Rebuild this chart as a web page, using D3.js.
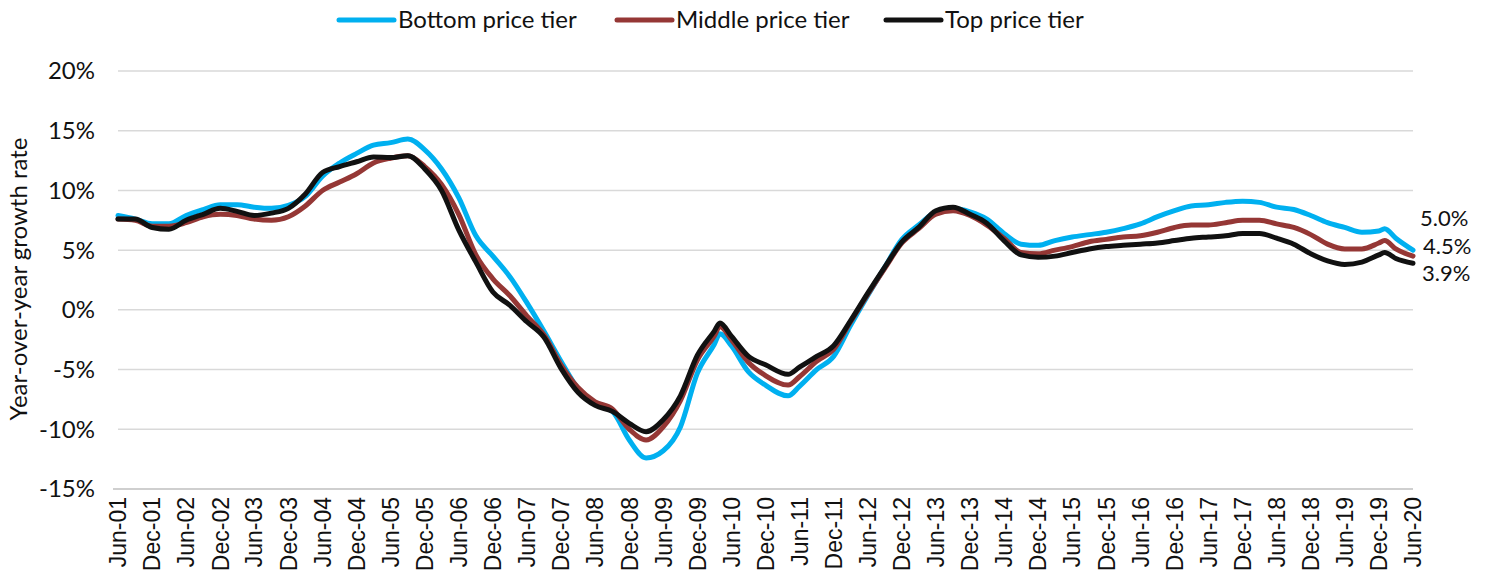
<!DOCTYPE html>
<html>
<head>
<meta charset="utf-8">
<script src="https://cdn.jsdelivr.net/npm/d3@7"></script>
<style>
  body { margin: 0; background: #fff; }
  svg { display: block; }
</style>
</head>
<body>
<svg id="chart" width="1491" height="577"></svg>
<script>
// readings taken roughly quarterly, with extra points at turning points
var dates = ["2001-06","2001-09","2001-12","2002-03","2002-06","2002-09","2002-12","2003-03","2003-06","2003-09",
  "2003-12","2004-03","2004-06","2004-09","2004-12","2005-03","2005-06","2005-09","2005-12","2006-03",
  "2006-06","2006-09","2006-12","2007-03","2007-06","2007-09","2007-12","2008-03","2008-06","2008-09",
  "2008-12","2009-03","2009-06","2009-09","2009-12","2010-03","2010-04","2010-06","2010-09","2010-12",
  "2011-04","2011-06","2011-09","2011-12","2012-03","2012-06","2012-09","2012-12","2013-03","2013-06",
  "2013-09","2013-12","2014-03","2014-06","2014-09","2014-12","2015-03","2015-06","2015-09","2015-12",
  "2016-03","2016-06","2016-09","2016-12","2017-03","2017-06","2017-09","2017-12","2018-03","2018-06",
  "2018-09","2018-12","2019-03","2019-06","2019-09","2019-12","2020-01","2020-03","2020-06"];

var bottomTier = [7.9,7.6,7.2,7.2,7.9,8.4,8.8,8.8,8.6,8.5,
  8.75,9.5,11.2,12.3,13.1,13.8,14.0,14.3,13.4,11.8,
  9.4,6.2,4.5,2.8,0.6,-1.8,-4.3,-6.6,-7.9,-8.5,
  -10.9,-12.4,-11.8,-9.8,-5.3,-2.9,-2.0,-3.0,-5.2,-6.3,
  -7.2,-6.4,-5.0,-3.9,-1.3,1.2,3.6,5.9,7.1,8.2,
  8.5,8.2,7.6,6.4,5.5,5.4,5.8,6.1,6.3,6.5,
  6.8,7.2,7.8,8.3,8.7,8.8,9.0,9.1,9.0,8.6,
  8.4,7.9,7.3,6.9,6.5,6.6,6.8,6.0,5.0];

var middleTier = [7.6,7.5,7.0,7.0,7.3,7.8,8.0,7.9,7.6,7.5,
  7.8,8.7,10.0,10.7,11.4,12.3,12.7,12.9,12.0,10.5,
  8.0,4.6,2.6,1.2,-0.5,-2.1,-4.6,-6.5,-7.7,-8.3,
  -10.0,-10.9,-9.8,-7.6,-4.2,-2.2,-1.4,-2.5,-4.4,-5.5,
  -6.3,-5.6,-4.3,-3.3,-1.0,1.3,3.5,5.6,6.8,8.0,
  8.3,7.9,7.1,6.0,4.8,4.7,5.0,5.3,5.7,5.9,
  6.1,6.2,6.5,6.9,7.1,7.1,7.3,7.5,7.5,7.2,
  6.9,6.3,5.5,5.1,5.1,5.6,5.8,5.1,4.5];

var topTier = [7.6,7.6,6.9,6.75,7.5,8.0,8.5,8.25,7.9,8.1,
  8.5,9.7,11.5,12.0,12.4,12.8,12.75,12.9,11.8,10.0,
  6.7,4.0,1.5,0.4,-1.0,-2.3,-4.9,-6.9,-8.0,-8.5,
  -9.5,-10.2,-9.2,-7.2,-3.8,-1.8,-1.1,-2.2,-3.9,-4.6,
  -5.4,-4.8,-3.9,-3.0,-0.9,1.4,3.6,5.7,6.9,8.3,
  8.6,8.0,7.25,5.8,4.6,4.4,4.5,4.8,5.1,5.3,
  5.4,5.5,5.6,5.8,6.0,6.1,6.2,6.4,6.4,6.0,
  5.5,4.7,4.1,3.8,4.0,4.6,4.8,4.3,3.9];

var seriesNames = ["Bottom price tier", "Middle price tier", "Top price tier"];
var seriesColors = ["#00b0f0", "#953735", "#111111"];
var endLabels = ["5.0%", "4.5%", "3.9%"];
var yTicks = [20, 15, 10, 5, 0, -5, -10, -15];

var parseMonth = d3.utcParse("%Y-%m");
var x0 = parseMonth("2001-06"), x1 = parseMonth("2020-06");
var xTicks = d3.utcMonth.range(x0, d3.utcMonth.offset(x1, 1), 6);

var svg = d3.select("#chart");
var margin = { left: 118, right: 78, top: 71, bottom: 88 };
var W = 1491, H = 577;

var x = d3.scaleUtc().domain([x0, x1]).range([margin.left, W - margin.right]);
var y = d3.scaleLinear().domain([-15, 20]).range([H - margin.bottom, margin.top]);

// gridlines
svg.append("g").selectAll("line").data(yTicks.filter(function(t){ return t !== -15; })).join("line")
  .attr("x1", x.range()[0]).attr("x2", x.range()[1])
  .attr("y1", function(d){ return y(d); }).attr("y2", function(d){ return y(d); })
  .attr("stroke", "#d9d9d9").attr("stroke-width", 1.5);

// y labels
svg.append("g").selectAll("text").data(yTicks).join("text")
  .attr("x", 95).attr("y", function(d){ return y(d); }).attr("dy", "0.35em")
  .attr("text-anchor", "end")
  .style("font-family", "Lato, sans-serif").style("font-size", "24px").attr("fill", "#111")
  .text(function(d){ return d + "%"; });

// x axis line
svg.append("line")
  .attr("x1", margin.left - 5).attr("x2", x.range()[1])
  .attr("y1", y(-15)).attr("y2", y(-15))
  .attr("stroke", "#bfbfbf").attr("stroke-width", 1.5);

// x labels (rotated)
var fmt = d3.utcFormat("%b-%y");
svg.append("g").selectAll("text").data(xTicks).join("text")
  .attr("transform", function(d){ return "translate(" + x(d) + "," + (y(-15) + 8) + ") rotate(-90)"; })
  .attr("dy", "0.36em").attr("text-anchor", "end")
  .style("font-family", "'Liberation Sans', Arial, sans-serif").style("font-size", "23px").attr("fill", "#111")
  .text(function(d){ return fmt(d); });

// y axis title
svg.append("text")
  .attr("transform", "translate(19,279) rotate(-90)")
  .attr("text-anchor", "middle").attr("dy", "0.35em")
  .style("font-family", "Lato, sans-serif").style("font-size", "24px").attr("fill", "#111")
  .text("Year-over-year growth rate");

// lines
var dts = dates.map(parseMonth);
var allSeries = [bottomTier, middleTier, topTier];
var line = d3.line()
  .x(function(d, i){ return x(dts[i]); })
  .y(function(d){ return y(d); })
  .curve(d3.curveMonotoneX);

svg.append("g").selectAll("path").data(allSeries).join("path")
  .attr("d", function(d){ return line(d); })
  .attr("fill", "none")
  .attr("stroke", function(d, i){ return seriesColors[i]; })
  .attr("stroke-width", 5)
  .attr("stroke-linejoin", "round").attr("stroke-linecap", "round");

// end labels
var endY = [218, 246, 273];
var endX = [1420, 1423, 1422];
svg.append("g").selectAll("text").data(endLabels).join("text")
  .attr("x", function(d, i){ return endX[i]; })
  .attr("y", function(d, i){ return endY[i]; }).attr("dy", "0.35em")
  .style("font-family", "Lato, sans-serif").style("font-size", "22px").attr("fill", "#111")
  .text(function(d){ return d; });

// legend
var legendX = [339, 617, 886];
var lg = svg.append("g").selectAll("g").data(seriesNames).join("g")
  .attr("transform", function(d, i){ return "translate(" + legendX[i] + ",20)"; });
lg.append("line").attr("x1", 0).attr("x2", 55).attr("y1", 0).attr("y2", 0)
  .attr("stroke", function(d, i){ return seriesColors[i]; })
  .attr("stroke-width", 5).attr("stroke-linecap", "round");
lg.append("text").attr("x", 59).attr("dy", "0.35em")
  .style("font-family", "Lato, sans-serif").style("font-size", "24px").attr("fill", "#111")
  .text(function(d){ return d; });
</script>
</body>
</html>
